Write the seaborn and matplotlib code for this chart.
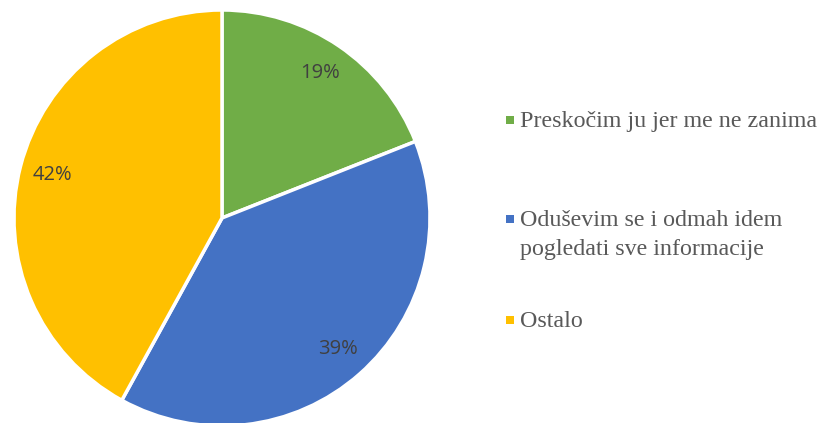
import matplotlib
matplotlib.use("Agg")
import matplotlib.pyplot as plt
import seaborn as sns

categories = ["Preskočim ju jer me ne zanima",
              "Oduševim se i odmah idem\npogledati sve informacije",
              "Ostalo"]
shares = [19, 39, 42]
colors = ["#70AD47", "#4472C4", "#FFC000"]

sns.set_theme(style="white")
plt.rcParams["font.family"] = ["DejaVu Sans"]

W, H = 825, 423
fig = plt.figure(figsize=(W / 100, H / 100), dpi=100)
fig.patch.set_facecolor("white")

# pie area: radius and centre in pixels (from top-left)
r_px = 208
cx, cy = 222, 218
ax = fig.add_axes([(cx - r_px) / W, (H - cy - r_px) / H, 2 * r_px / W, 2 * r_px / H])

wedges, texts, autotexts = ax.pie(
    shares,
    colors=colors,
    startangle=90,
    counterclock=False,
    autopct=lambda p: f"{p:.0f}%",
    pctdistance=0.84,
    wedgeprops=dict(edgecolor="white", linewidth=2.5),
    textprops=dict(fontfamily="Open Sans", fontsize=14.5, color="#404040"),
)
for w in wedges:
    w.set_clip_on(False)
ax.set_xlim(-1, 1)
ax.set_ylim(-1, 1)
ax.set_aspect("equal")
ax.axis("off")

# legend panel in pixel coordinates (y measured from the top)
lax = fig.add_axes([0, 0, 1, 1])
lax.set_xlim(0, W)
lax.set_ylim(H, 0)
lax.axis("off")
lax.patch.set_alpha(0)

entry_y = [120, 219.5, 320.5]     # marker centres / first-line middles
line_step = 29.5
for label, color, y in zip(categories, colors, entry_y):
    lax.scatter([509.5], [y], marker="s", s=36, color=color, linewidths=0)
    for i, line in enumerate(label.split("\n")):
        lax.text(520, y + 6.5 + i * line_step, line, ha="left", va="baseline",
                 fontfamily="Liberation Serif", fontsize=17.3, color="#595959")

fig.savefig("out.png", dpi=100, facecolor="white")
